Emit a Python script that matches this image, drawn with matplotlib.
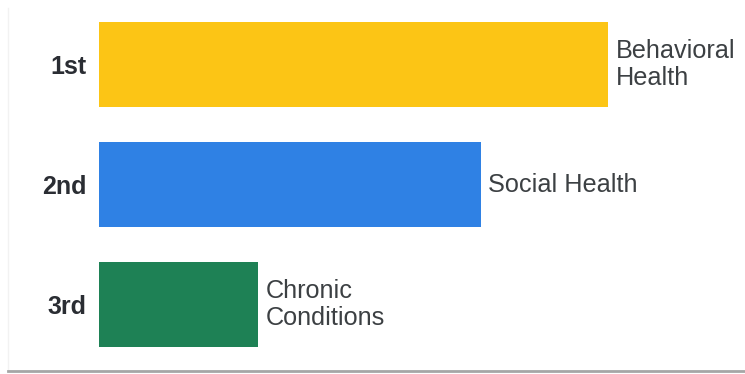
import matplotlib.pyplot as plt
from matplotlib.lines import Line2D

# ranking of health categories
ranks = ['1st', '2nd', '3rd']
categories = ['Behavioral\nHealth', 'Social Health', 'Chronic\nConditions']
values = [32, 24, 10]
colors = ['#FCC515', '#2F81E4', '#1E8155']

W, H = 745, 374
fig = plt.figure(figsize=(W / 100, H / 100), dpi=100)
fig.patch.set_facecolor('white')

# card outline: faint left edge, grey shadow at the bottom
fig.add_artist(Line2D([8 / W, 8 / W], [1 - 8 / H, 1 - 370 / H], transform=fig.transFigure,
                      color='#f2f2f2', lw=1))
fig.add_artist(Line2D([8 / W, 1], [1 - 371 / H, 1 - 371 / H], transform=fig.transFigure,
                      color='#a6a6a6', lw=2))

ax = fig.add_axes([99 / W, 1 - 364.5 / H, 636 / W, 360 / H])
ax.barh(range(len(ranks)), values, height=0.71, color=colors)
ax.set_xlim(0, 40)
ax.set_ylim(2.5, -0.5)
ax.set_yticks(range(len(ranks)))
ax.set_yticklabels(ranks, fontsize=18, fontweight='bold', color='#2a2d33',
                   family='Liberation Sans')
ax.tick_params(axis='y', length=0, pad=9)
ax.set_xticks([])
for s in ax.spines.values():
    s.set_visible(False)

for i, (v, lab) in enumerate(zip(values, categories)):
    ax.annotate(lab, (v, i), xytext=(5.5, 0), textcoords='offset points',
                va='center', ha='left', fontsize=18.2, color='#3c4043',
                family='Liberation Sans', linespacing=1.2)

fig.savefig('out.png', dpi=100)
